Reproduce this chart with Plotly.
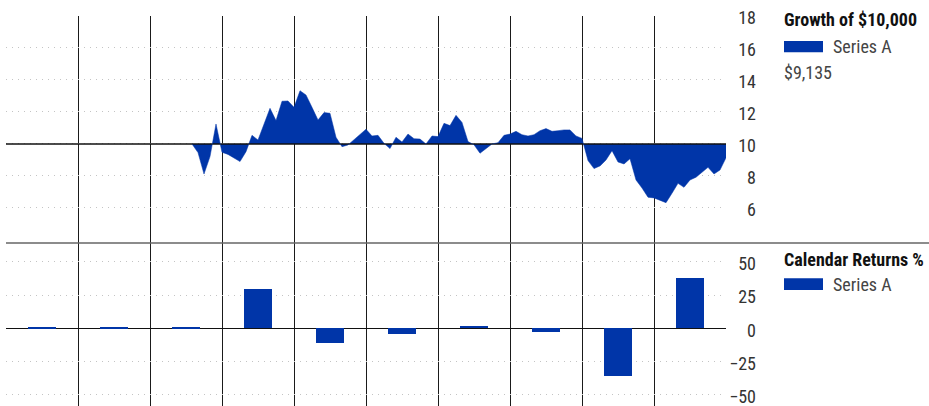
import plotly.graph_objects as go

# ---------------- data ----------------
# Growth of $10,000 (in thousands), monthly, starting at month index 31
growth_start_month = 31
growth = [10.0, 9.46, 8.12, 9.21, 11.25, 9.48, 9.35, 9.15, 8.9, 9.52,
          10.54, 10.25, 11.25, 12.23, 11.46, 12.67, 12.69, 12.29, 13.33, 13.06,
          12.29, 11.5, 11.96, 11.92, 10.42, 9.83, 9.94, 10.25, 10.6, 10.92,
          10.5, 10.54, 10.04, 9.71, 10.42, 10.12, 10.62, 10.33, 10.31, 10.0,
          10.5, 10.46, 11.29, 11.15, 11.79, 11.35, 10.15, 9.95, 9.42, 9.73,
          10.0, 10.08, 10.54, 10.62, 10.79, 10.58, 10.5, 10.58, 10.83, 10.96,
          10.79, 10.83, 10.88, 10.88, 10.5, 10.35, 8.96, 8.46, 8.63, 9.0,
          9.58, 8.875, 8.75, 9.08, 7.75, 7.25, 6.67, 6.63, 6.5, 6.33,
          6.92, 7.54, 7.29, 7.75, 7.92, 8.21, 8.54, 8.125, 8.375, 9.135]
baseline_value = 10

# Calendar returns % per year (10 years)
year_index = list(range(10))
calendar_returns = [0.7, 0.7, 0.7, 29.5, -11.0, -4.0, 1.7, -2.5, -35.5, 37.7]

growth_ticks = [6, 8, 10, 12, 14, 16, 18]
returns_ticks = [-50, -25, 0, 25, 50]
year_lines = [1, 2, 3, 4, 5, 6, 7, 8, 9]

series_name = "Series A"
top_title = "Growth of $10,000"
bottom_title = "Calendar Returns %"
ending_value_label = "$9,135"

# ---------------- styling ----------------
W, H = 929, 406
ML, MR, MT, MB = 6, 0, 16, 0
PW, PH = W - ML - MR, H - MT - MB
BLUE = "#0035a8"
FONT = "Roboto Condensed, Roboto, sans-serif"

def px_x(p):
    return (p - ML) / PW

def px_y(p):
    return (H - MB - p) / PH

x_dom_end = px_x(726)
split = px_y(243)
axis_pos = px_x(756)

growth_x = [(growth_start_month + i) / 12 for i in range(len(growth))]
bar_x = [i + 0.5 for i in year_index]

fig = go.Figure()

# baseline at 10 (also fill reference)
fig.add_trace(go.Scatter(
    x=[0, 10], y=[baseline_value, baseline_value], mode="lines",
    line=dict(color="#111111", width=1.3), hoverinfo="skip",
    showlegend=False, xaxis="x", yaxis="y"))

fig.add_trace(go.Scatter(
    x=growth_x, y=growth, mode="lines", name=series_name,
    line=dict(color=BLUE, width=0.5), fill="tonexty", fillcolor=BLUE,
    showlegend=False, xaxis="x", yaxis="y"))

fig.add_trace(go.Bar(
    x=bar_x, y=calendar_returns, width=0.4, name=series_name,
    marker=dict(color=BLUE, line=dict(width=0)),
    showlegend=False, xaxis="x2", yaxis="y2"))

grid_common = dict(gridcolor="#c4c4c4", griddash="1px,5px", gridwidth=1)

fig.update_layout(
    width=W, height=H,
    margin=dict(l=ML, r=MR, t=MT, b=MB, pad=0),
    paper_bgcolor="white", plot_bgcolor="white",
    font=dict(family=FONT, size=18, color="#333333"),
    bargap=0,
    xaxis=dict(domain=[0, x_dom_end], range=[0, 10], anchor="y",
               tickmode="array", tickvals=year_lines, showticklabels=False,
               ticks="", showgrid=True, gridcolor="#1a1a1a", gridwidth=1,
               zeroline=False, showline=False, fixedrange=True),
    xaxis2=dict(domain=[0, x_dom_end], range=[0, 10], anchor="y2",
                matches="x",
                tickmode="array", tickvals=year_lines, showticklabels=False,
                ticks="", showgrid=True, gridcolor="#1a1a1a", gridwidth=1,
                zeroline=False, showline=False, fixedrange=True),
    yaxis=dict(domain=[split, 1], range=[3.81, 18], anchor="free",
               position=axis_pos, side="left", automargin=False,
               tickmode="array", tickvals=growth_ticks, ticks="",
               ticklabelshift=2, ticklabeloverflow="allow",
               showgrid=True, zeroline=False, showline=False,
               tickfont=dict(size=18, color="#333333"), fixedrange=True,
               **grid_common),
    yaxis2=dict(domain=[0, split], range=[-58.4, 64.1], anchor="free",
                position=axis_pos, side="left", automargin=False,
                tickmode="array", tickvals=returns_ticks, ticks="",
                ticklabelshift=2, ticklabeloverflow="allow",
                showgrid=True, zeroline=True, zerolinecolor="#111111",
                zerolinewidth=1.3, showline=False,
                tickfont=dict(size=18, color="#333333"), fixedrange=True,
                **grid_common),
    showlegend=False,
)

# divider line between the two panels
fig.add_shape(type="line", xref="paper", yref="paper",
              x0=0, x1=1.0, y0=split, y1=split,
              line=dict(color="#666666", width=1.5))

# legend-like blocks
leg_x = px_x(784)
txt_x = px_x(782)
sw_x1 = px_x(823)
fig.add_annotation(xref="paper", yref="paper", x=txt_x, y=px_y(19.5),
                   text="<b>" + top_title + "</b>", showarrow=False,
                   xanchor="left", yanchor="middle",
                   font=dict(size=18, color="#111111", family=FONT))
fig.add_shape(type="rect", xref="paper", yref="paper",
              x0=leg_x, x1=sw_x1, y0=px_y(52.3), y1=px_y(41),
              fillcolor=BLUE, line=dict(width=0))
fig.add_annotation(xref="paper", yref="paper", x=px_x(830.5), y=px_y(46.5),
                   text=series_name, showarrow=False,
                   xanchor="left", yanchor="middle",
                   font=dict(size=18, color="#444444", family=FONT))
fig.add_annotation(xref="paper", yref="paper", x=txt_x, y=px_y(72.5),
                   text=ending_value_label, showarrow=False,
                   xanchor="left", yanchor="middle",
                   font=dict(size=18, color="#444444", family=FONT))

fig.add_annotation(xref="paper", yref="paper", x=txt_x, y=px_y(259.5),
                   text="<b>" + bottom_title + "</b>", showarrow=False,
                   xanchor="left", yanchor="middle",
                   font=dict(size=18, color="#111111", family=FONT))
fig.add_shape(type="rect", xref="paper", yref="paper",
              x0=leg_x, x1=sw_x1, y0=px_y(290), y1=px_y(278.3),
              fillcolor=BLUE, line=dict(width=0))
fig.add_annotation(xref="paper", yref="paper", x=px_x(830.5), y=px_y(284),
                   text=series_name, showarrow=False,
                   xanchor="left", yanchor="middle",
                   font=dict(size=18, color="#444444", family=FONT))

fig.write_html("out.html", config={"displayModeBar": False},
               post_script="document.body.style.margin='0';")
